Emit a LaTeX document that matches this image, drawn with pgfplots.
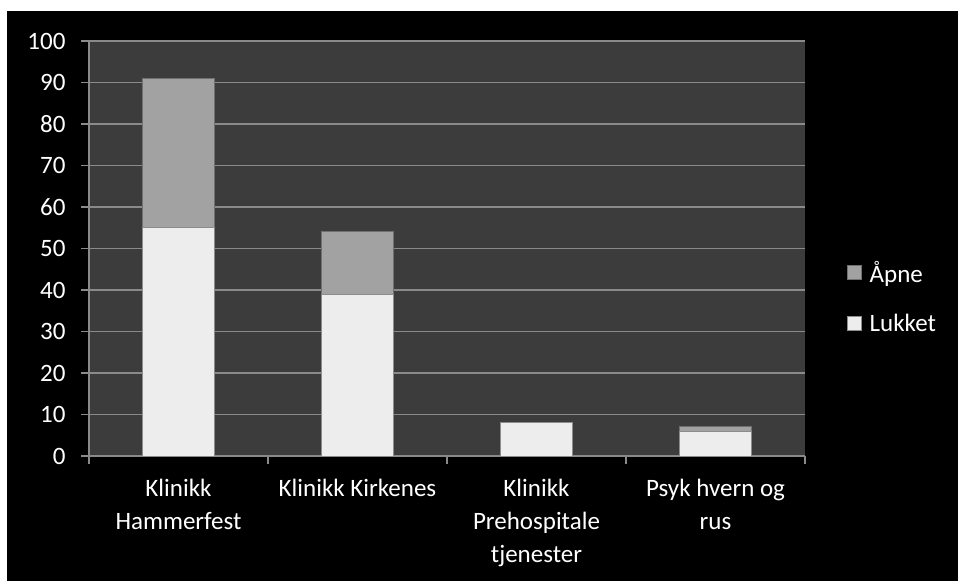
\documentclass[border=0pt]{standalone}
\usepackage{pgfplots}
\pgfplotsset{compat=1.18}
\usepackage{fontspec}
\setmainfont{Carlito}

\definecolor{plotbg}{HTML}{3C3C3C}
\definecolor{gridgray}{HTML}{8A8A8A}
\definecolor{edgegray}{HTML}{8C8C8C}
\definecolor{lukketfill}{HTML}{EDEDED}
\definecolor{apnefill}{HTML}{A2A2A2}

% closed / open cases per clinic
\pgfplotstableread{
idx lukket apne
0   55     36
1   39     15
2   8      0
3   6      1
}\avvik

\begin{document}
\begin{tikzpicture}
\useasboundingbox (0bp,0bp) rectangle (958bp,581bp);
\fill[white] (0bp,0bp) rectangle (958bp,581bp);
\fill[black] (7bp,0bp) rectangle (958bp,570bp);
\begin{axis}[
  at={(89bp,125bp)}, anchor=south west,
  scale only axis, width=716bp, height=415bp,
  ybar stacked, bar width=0.4,
  xmin=-0.5, xmax=3.5, ymin=0, ymax=100,
  ytick={0,10,...,100},
  xtick={0,1,2,3},
  xticklabels={{Klinikk\\Hammerfest},{Klinikk Kirkenes},{Klinikk\\Prehospitale\\tjenester},{Psyk hvern og\\rus}},
  minor xtick={-0.5,0.5,1.5,2.5,3.5},
  axis x line*=bottom, axis y line*=left,
  axis line style={gridgray, line width=1.2bp, -},
  tick align=outside,
  major tick length=8bp, minor tick length=8bp,
  tick style={gridgray, line width=1.2bp},
  major x tick style={draw=none},
  ymajorgrids, grid style={gridgray, line width=1.2bp},
  axis background/.style={fill=plotbg},
  /pgf/number format/assume math mode=true,
  ticklabel style={text=white, font=\fontsize{25bp}{33bp}\selectfont},
  y tick label style={xshift=-12bp},
  x tick label style={align=center, yshift=-12bp},
  legend style={draw=none, fill=none, text=white, font=\fontsize{25bp}{29bp}\selectfont,
    at={(1.058,0.383)}, anchor=west, row sep=26bp, inner sep=0pt,
    /tikz/every odd column/.append style={column sep=6bp}},
  legend cell align=left,
  reverse legend,
]
\addplot+[draw=edgegray, line width=1bp, fill=lukketfill,
  legend image code/.code={\path[draw=edgegray, fill=lukketfill] (0bp,-7bp) rectangle (14bp,7bp);}]
  table[x=idx, y=lukket] {\avvik};
\addlegendentry{Lukket}
\addplot+[draw=edgegray!80!black, line width=1bp, fill=apnefill,
  legend image code/.code={\path[draw=edgegray!80!black, fill=apnefill] (0bp,-7bp) rectangle (14bp,7bp);}]
  table[x=idx, y=apne] {\avvik};
\addlegendentry{Åpne}
\end{axis}
\end{tikzpicture}
\end{document}
